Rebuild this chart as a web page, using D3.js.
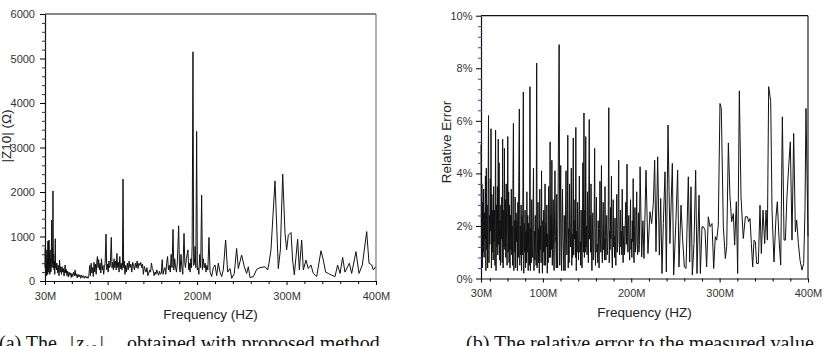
<!DOCTYPE html>
<html lang="en">
<head>
<meta charset="UTF-8">
<title>|Z10| and relative error</title>
<script src="https://d3js.org/d3.v7.min.js"></script>
<style>
    body { margin: 0; background: #fff; font-family: "Liberation Sans", Arial, sans-serif; }
    svg { display: block; }
    .tick text { fill: #333; font-size: 11px; font-family: "Liberation Sans", Arial, sans-serif; }
    .title { fill: #222; font-size: 13.5px; font-family: "Liberation Sans", Arial, sans-serif; }
    .caption { fill: #111; font-size: 20px; font-family: "Liberation Serif", "Times New Roman", serif; }
</style>
</head>
<body>
<div id="container"></div>
<script>
// tick values (frequency in MHz)
const freqMajor = [30, 100, 200, 300, 400];
const freqMinor = [40, 60, 80, 120, 140, 160, 180, 220, 240, 260, 280, 320, 340, 360, 380];
const zTicks = [0, 1000, 2000, 3000, 4000, 5000, 6000];
const errTicks = [0, 2, 4, 6, 8, 10];

// (a) |Z10| in ohm, [frequency MHz, value]
const zPoints = [
    [30,300],[30.3,750],[30.6,150],[30.9,600],[31.2,200],[31.5,450],[31.8,120],[32.1,700],[32.4,250],[32.7,500],
    [33,150],[33.3,900],[33.6,300],[33.9,880],[34.2,200],[34.5,920],[34.8,350],[35.1,600],[35.4,150],[35.7,700],
    [36,300],[36.3,500],[36.6,200],[37,450],[37.5,1370],[37.9,300],[38.3,750],[38.6,400],[38.9,2025],[39.3,300],
    [39.7,600],[40.1,250],[40.5,450],[40.9,150],[41.5,950],[41.9,300],[42.3,400],[42.8,250],[43.3,400],[44.1,180],
    [44.9,350],[45.7,120],[46.3,470],[47,200],[47.7,320],[48.4,150],[49.1,320],[49.8,200],[50.5,280],[51.3,110],
    [52,250],[52.5,360],[53.1,180],[53.8,260],[54.5,120],[55.3,220],[56.1,90],[56.9,200],[57.7,130],[58.5,180],
    [59.3,80],[60.1,170],[61,100],[62,200],[63,120],[63.6,250],[64.4,120],[65,160],[66,70],[67,150],
    [68,90],[69,140],[70,60],[71,130],[72,80],[73,120],[74,60],[75,110],[76,70],[77,100],[78,60],[79,110],
    [80,350],[80.8,120],[81.6,400],[82.4,180],[83.2,300],[84,100],[84.8,420],[85.6,200],[86.4,380],[87.2,150],
    [88,450],[88.6,550],[89.3,300],[90,480],[90.8,250],[91.6,400],[92.4,180],[93.2,500],[94,250],[94.8,350],
    [95.6,150],[96.4,300],[97.2,400],[98.2,1055],[99,250],[99.8,380],[100.6,200],[101.4,450],[102.2,300],[103,350],
    [104.1,980],[104.9,300],[105.6,420],[106.4,250],[107.2,500],[108,300],[108.8,450],[109.6,250],[110.4,620],[111.2,300],
    [112,420],[112.8,200],[113.6,550],[114.4,280],[115.2,400],[116,250],[116.6,350],[117.2,2290],[117.9,300],[118.6,450],
    [119.4,150],[120.2,350],[121,200],[122,400],[123,250],[124,450],[125,300],[126,380],[127,200],[128,420],
    [129,330],[130,250],[131,400],[132,300],[133,450],[134,280],[135,400],[136,350],[137,420],[138,300],
    [139,380],[140,150],[141,330],[142,250],[143,200],[144,300],[145,120],[146,180],[147,250],[148,200],
    [149,400],[150,280],[151,230],[152,120],[153,200],[154,150],[155,250],[156,180],[157,130],[158,220],
    [159,150],[160,180],[161,480],[162,150],[163,250],[164,300],[165,150],[166,400],[167,550],[168,250],
    [169,350],[170,200],[171,600],[172,300],[173.1,1160],[174,250],[175,500],[176,300],[177,200],[178,450],
    [179.4,1240],[180.3,350],[181,200],[182,600],[183,300],[184,150],[185.4,1070],[186.3,400],[187,300],[188,500],
    [189.8,700],[190.6,250],[191.4,400],[192.2,200],[193,500],[193.8,300],[194.5,800],[195.4,5150],[196.2,350],[197,400],
    [197.8,780],[198.6,300],[199.5,3360],[200.3,250],[201,300],[202,150],[203,600],[204,300],[205.1,1930],[206,250],
    [207,500],[208,300],[209,400],[210,200],[211,350],[212,250],[213.3,980],[214.5,200],[216.3,100],[218.2,300],
    [220,360],[221.9,120],[223.7,400],[225.6,200],[227.5,100],[229.3,250],[231.9,920],[234.2,200],[236.8,280],[238.7,60],
    [241.6,170],[244.2,730],[246.1,280],[249.8,585],[252.8,320],[255.4,170],[257.3,320],[259.2,75],[262.9,100],[266.6,260],
    [270.3,300],[275.9,320],[278.9,250],[280.4,400],[282.6,700],[287.1,2250],[290.8,280],[293.1,700],[295.7,2400],[298.3,1070],
    [300.1,700],[302,1030],[305,1090],[306.8,470],[308.7,140],[312.4,940],[314.3,250],[316.9,920],[318.8,250],[321.7,470],
    [324.3,280],[327.3,360],[329.9,170],[333.7,100],[338.5,680],[341.1,470],[343.7,200],[346.7,170],[350.4,130],[354.2,100],
    [357.1,360],[359.8,170],[362.7,530],[365.3,200],[370.2,400],[372.8,170],[377.6,660],[381,170],[384.7,360],[389.6,1110],
    [392.2,400],[395.2,360],[397,250],[399.6,320]
];

// (b) relative error in %, [frequency MHz, value]
const errPoints = [
    [30,5.1],[30.5,1.2],[31,3.6],[31.5,0.4],[32,2.9],[32.5,1.0],[33,3.4],[33.5,0.8],[34,2.5],[34.5,1.5],
    [35,3.9],[35.5,0.3],[36,4.2],[36.5,1.1],[37,2.8],[37.5,0.4],[38,3.0],[38.5,6.2],[39,0.6],[39.5,2.4],
    [40,1.3],[40.5,3.8],[41,1.8],[41.3,5.7],[41.8,0.4],[42.3,3.2],[42.8,1.0],[43.3,2.6],[43.8,0.7],[44.3,3.5],
    [44.8,1.4],[45.3,2.6],[45.8,0.5],[46.5,5.65],[47,0.3],[47.5,2.8],[48,1.2],[48.5,3.5],[49,0.9],[49.5,5.3],
    [50,1.3],[50.5,4.4],[51,0.7],[51.5,2.2],[52,0.5],[52.5,2.8],[53,1.5],[53.5,3.1],[54,0.6],[54.5,5.3],
    [55,0.4],[55.5,2.6],[56,1.2],[56.5,4.95],[57,1.1],[57.5,3.0],[58,0.8],[58.5,3.6],[59,1.6],[59.5,0.5],
    [60.3,5.4],[60.8,1.0],[61.3,3.3],[61.8,0.6],[62.3,2.8],[62.8,0.4],[63.3,2.4],[63.8,1.1],[64.3,3.4],[64.8,0.9],
    [65.3,2.0],[65.8,0.5],[66.2,4.0],[66.7,5.9],[67.2,0.3],[67.7,2.2],[68.2,1.0],[68.7,3.1],[69.2,0.4],[69.7,2.5],
    [70.2,1.4],[70.7,2.2],[71.2,0.3],[71.7,2.9],[72.2,0.8],[72.7,3.7],[73.4,6.45],[73.9,0.5],[74.4,2.0],[74.9,0.9],
    [75.4,2.8],[75.9,0.3],[76.4,2.4],[76.9,0.9],[77.4,3.5],[77.9,7.1],[78.4,0.2],[78.9,2.1],[79.4,1.0],[79.9,2.6],
    [80.4,0.4],[80.9,1.8],[81.4,0.6],[81.9,3.3],[82.4,1.0],[82.9,2.4],[83.4,0.3],[83.9,2.1],[84.4,0.8],[84.9,0.5],
    [85.4,7.3],[85.9,0.3],[86.4,1.9],[86.9,0.6],[87.4,3.0],[87.9,1.2],[88.4,0.8],[88.9,2.7],[89.4,4.2],[89.9,0.3],
    [90.4,1.8],[90.9,0.7],[91.4,2.4],[91.9,1.2],[92.4,0.5],[93,8.2],[93.5,0.4],[94,1.5],[94.5,2.9],[95,0.6],
    [95.5,1.9],[96,0.2],[96.5,3.4],[97,1.1],[97.5,2.0],[98,0.6],[98.5,4.1],[99,1.3],[99.5,0.2],[100,2.2],
    [100.5,1.0],[101,2.6],[101.5,0.5],[102,1.8],[102.5,3.6],[103,0.5],[103.5,2.1],[104,1.2],[104.5,2.8],[105,0.2],
    [105.5,1.7],[106,0.6],[106.5,3.5],[107,1.5],[107.5,0.8],[108.2,5.2],[108.7,0.8],[109.2,2.4],[109.7,1.1],[110.2,4.5],
    [110.7,0.5],[111.2,2.1],[111.7,3.0],[112.2,1.1],[112.7,0.3],[113.2,2.3],[113.7,4.1],[114.2,1.6],[114.7,1.3],[115.2,0.4],
    [115.7,3.2],[116.2,1.0],[116.7,0.4],[117.6,5.0],[118.4,8.9],[119.1,0.5],[119.7,2.5],[120.2,4.3],[120.7,1.2],[121.2,0.3],
    [121.7,2.0],[122.2,3.4],[122.7,1.6],[123.2,1.0],[123.7,0.3],[124.2,2.4],[124.7,1.3],[125.2,0.3],[125.7,2.6],[126.2,4.1],
    [126.7,1.5],[127.2,0.9],[127.7,2.2],[128.2,5.45],[128.7,0.4],[129.2,1.9],[129.7,0.6],[130.2,3.6],[130.7,1.8],[131.2,1.2],
    [131.7,2.3],[132.2,4.2],[132.7,0.5],[133.2,1.7],[133.7,0.8],[134.4,5.35],[134.9,0.9],[135.4,2.2],[135.9,1.5],[136.4,3.0],
    [136.9,0.8],[137.3,5.75],[137.8,0.3],[138.3,1.8],[138.8,1.0],[139.3,2.9],[139.8,1.6],[140.3,0.7],[140.8,2.0],[141.3,3.9],
    [141.8,1.0],[142.3,1.4],[142.8,0.5],[143.3,2.6],[143.8,1.2],[144.3,0.4],[144.8,2.0],[145.3,4.4],[145.9,1.0],[146.5,6.3],
    [147,0.8],[147.5,2.6],[148,1.0],[148.5,5.4],[149,1.2],[149.5,2.0],[150,0.9],[150.5,3.3],[151,1.7],[151.5,0.6],
    [152.5,6.05],[153,1.5],[153.5,2.4],[154,1.0],[154.5,3.6],[155,1.2],[155.5,0.3],[156,1.6],[156.5,2.5],[157,0.7],
    [157.5,1.0],[158,2.2],[158.6,4.95],[159.1,1.2],[159.6,0.5],[160.1,2.0],[160.6,3.1],[161.1,1.0],[161.6,1.3],[162.1,0.6],
    [162.6,2.2],[163.1,1.4],[163.6,0.4],[164.1,1.9],[164.6,3.7],[165.1,1.5],[165.6,1.0],[166.3,4.3],[166.8,1.2],[167.3,0.6],
    [167.8,1.9],[168.3,2.9],[168.8,1.1],[169.3,1.5],[169.8,0.7],[170.3,3.5],[170.8,1.6],[171.3,0.7],[171.8,1.8],[172.3,2.4],
    [172.8,0.9],[173.3,1.2],[173.9,2.0],[174.6,6.5],[175.1,0.6],[175.6,1.8],[176.1,1.1],[176.6,2.7],[177.1,1.5],[177.6,3.9],
    [178.1,1.0],[178.6,0.4],[179.1,1.7],[179.6,3.0],[180.1,1.2],[180.6,1.6],[181.1,0.8],[181.6,2.3],[182.1,1.4],[182.6,0.5],
    [183.1,1.9],[183.6,3.2],[184.1,1.0],[184.6,1.3],[185.1,2.2],[185.8,4.5],[186.3,1.5],[186.8,0.9],[187.3,1.8],[187.8,2.6],
    [188.3,1.2],[188.8,1.8],[189.3,0.9],[189.8,3.4],[190.3,1.4],[190.8,0.6],[191.3,1.5],[191.8,2.0],[192.3,0.9],[192.8,1.2],
    [193.3,2.2],[193.8,2.9],[194.5,1.3],[195.2,4.35],[195.7,1.6],[196.2,1.0],[196.7,2.0],[197.2,2.4],[197.7,1.2],[198.2,0.7],
    [198.7,1.9],[199.2,3.0],[199.7,1.1],[200.2,1.5],[200.7,0.8],[201.2,2.2],[201.7,1.4],[202.2,3.8],[202.7,1.0],[203.2,0.6],
    [203.7,1.8],[204.2,2.7],[204.7,1.0],[205.2,1.4],[205.7,2.1],[206.2,3.3],[206.7,1.3],[207.2,0.9],[207.7,1.7],[208.2,2.5],
    [208.7,1.0],[209.2,1.3],[210,4.25],[211.8,0.82],[213.2,2.2],[214.4,0.76],[216.7,4.12],[218.9,0.95],[221.2,2.54],[223.1,2.09],
    [225,2.86],[226.5,4.5],[228,1.02],[229.9,4.63],[231.8,0.89],[233.3,3.05],[234.8,0.19],[236.3,2.09],[238.2,4.06],[239.7,0.25],
    [241.6,5.84],[243.8,1.33],[246.5,4.38],[248,0.13],[250.3,1.97],[252.5,4.12],[254,0.44],[256.3,2.79],[258.2,1.46],[260.1,0.44],
    [262,0.38],[264.6,3.87],[266.1,0.63],[267.6,3.49],[269.1,0.13],[271,1.33],[272.9,4.12],[274.4,0.19],[276.7,3.17],[278.2,0.19],
    [280.1,1.97],[281.6,1.97],[283.5,1.84],[285.3,0.44],[287.2,2.35],[289.1,1.97],[291.4,2.09],[293.3,0.38],[295.1,1.59],[296.7,1.46],
    [298.5,2.03],[300.4,6.66],[301.9,6.47],[304.2,1.97],[306.5,0.76],[308,1.21],[309.9,5.16],[311.7,3.11],[313.6,2.16],[315.5,2.47],
    [317,1.27],[318.9,2.92],[320.4,0.19],[322.3,7.14],[324.2,3.11],[326.8,1.52],[329.1,2.35],[331.4,2.35],[332.9,2.16],[334.4,2.28],
    [335.9,1.33],[337.4,0.44],[338.9,1.46],[340.4,1.4],[341.9,0.57],[343.8,0.57],[345.7,2.79],[347.2,0.95],[349.1,2.6],[351,1.33],
    [352.5,2.6],[354,1.46],[355.5,7.3],[357.8,6.73],[359.3,2.6],[361.5,0.63],[363.8,2.35],[365.3,2.92],[367.2,1.52],[369.1,0.51],
    [371,6.15],[372.9,1.46],[374.4,1.46],[376.2,3.11],[378.1,4.25],[380,5.2],[381.9,1.46],[383.8,5.52],[385.7,1.78],[387.2,2.22],
    [389.1,1.33],[391,0.7],[393.2,0.32],[395.1,0.57],[396.6,2.6],[397.7,6.47],[400,1.6]
];

const svg = d3.select('#container').append('svg')
    .attr('width', 823)
    .attr('height', 346);

function drawPanel(p) {
    const x = d3.scaleLinear().domain([30, 400]).range([p.left, p.right]);
    const y = d3.scaleLinear().domain([0, p.yMax]).range([p.bottom, p.top]);
    const g = svg.append('g');

    // top and right frame
    g.append('line')
        .attr('x1', p.left).attr('x2', p.right)
        .attr('y1', p.top).attr('y2', p.top)
        .attr('stroke', '#111').attr('stroke-width', 1.2);
    g.append('line')
        .attr('x1', p.right).attr('x2', p.right)
        .attr('y1', p.top).attr('y2', p.bottom)
        .attr('stroke', p.rightColor).attr('stroke-width', 1.2);

    // data line
    const line = d3.line()
        .x(d => x(d[0]))
        .y(d => y(d[1]));
    g.append('path')
        .datum(p.data)
        .attr('d', line)
        .attr('fill', 'none')
        .attr('stroke', '#111')
        .attr('stroke-width', 1)
        .attr('stroke-linejoin', 'round');

    // x axis
    const xAxis = g.append('g')
        .attr('transform', `translate(0,${p.bottom})`)
        .call(d3.axisBottom(x).tickValues(freqMajor).tickFormat(d => d + 'M')
            .tickSize(4).tickSizeOuter(0).tickPadding(7));
    xAxis.select('.domain').attr('stroke', '#111').attr('stroke-width', 1.2);
    g.append('g')
        .attr('transform', `translate(0,${p.bottom})`)
        .call(d3.axisBottom(x).tickValues(freqMinor).tickFormat('').tickSize(3))
        .call(a => a.select('.domain').remove());

    // y axis
    const yAxis = g.append('g')
        .attr('transform', `translate(${p.left},0)`)
        .call(d3.axisLeft(y).tickValues(p.yTicks).tickFormat(p.yFormat)
            .tickSize(5).tickSizeOuter(0).tickPadding(p.yPad));
    yAxis.select('.domain').attr('stroke', '#111').attr('stroke-width', 1.2);
    g.append('g')
        .attr('transform', `translate(${p.left + 1},0)`)
        .call(d3.axisLeft(y).tickValues(p.yMinor).tickFormat('').tickSize(4))
        .call(a => a.select('.domain').remove())
        .selectAll('line').attr('stroke', p.minorColor);

    // axis titles
    g.append('text')
        .attr('class', 'title')
        .attr('x', (p.left + p.right) / 2)
        .attr('y', p.bottom + 38)
        .attr('text-anchor', 'middle')
        .text('Frequency (HZ)');
    g.append('text')
        .attr('class', 'title')
        .attr('transform', `translate(${p.yTitleX},${p.yTitleY}) rotate(-90)`)
        .attr('text-anchor', 'middle')
        .text(p.yTitle);
}

// minor y ticks: every 200 ohm / every 0.4 %
const zMinor = d3.range(200, 6000, 200).filter(v => v % 1000 !== 0);
const errMinor = d3.range(1, 25).filter(k => k % 5 !== 0).map(k => k * 0.4);

drawPanel({
    left: 45, right: 376, top: 14, bottom: 281,
    yMax: 6000, yTicks: zTicks, yMinor: zMinor, yFormat: d => d, yPad: 5,
    minorColor: '#333', rightColor: '#777',
    data: zPoints, yTitle: '|Z10| (Ω)', yTitleX: 11, yTitleY: 136
});

drawPanel({
    left: 481, right: 808, top: 15.7, bottom: 278.5,
    yMax: 10, yTicks: errTicks, yMinor: errMinor, yFormat: d => d + '%', yPad: 3.5,
    minorColor: '#3b3bc8', rightColor: '#222',
    data: errPoints, yTitle: 'Relative Error', yTitleX: 451, yTitleY: 142
});

// captions
const capA = svg.append('text')
    .attr('class', 'caption')
    .attr('y', 350);
capA.append('tspan').attr('x', -1).text('(a) The');
capA.append('tspan').attr('x', 70).text('|');
capA.append('tspan').attr('dx', 2).attr('font-style', 'italic').text('z');
capA.append('tspan').attr('font-size', '14px').attr('dy', 5).text('10');
capA.append('tspan').attr('dx', 2).attr('dy', -5).text('|');
capA.append('tspan').attr('x', 127).text('obtained with proposed method');

svg.append('text')
    .attr('class', 'caption')
    .attr('x', 466)
    .attr('y', 350)
    .text('(b) The relative error to the measured value.');
</script>
</body>
</html>
